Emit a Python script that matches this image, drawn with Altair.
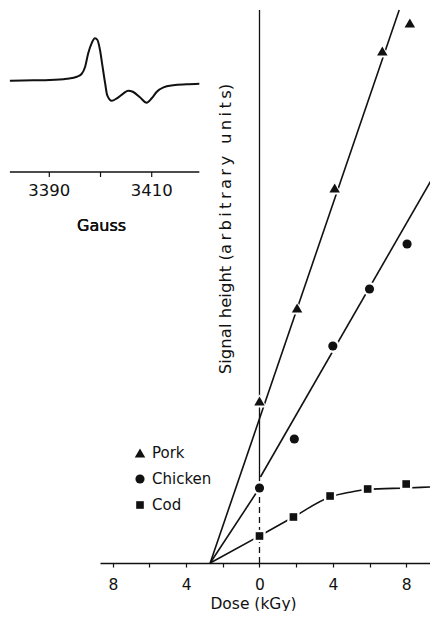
import altair as alt
import pandas as pd

# ---------------- data ----------------
series_names = ["Pork", "Chicken", "Cod"]
series_shapes = ["triangle-up", "circle", "square"]
series_sizes = [110, 58, 56]
halo_sizes = [230, 150, 150]

pork_dose = [0.0, 2.05, 4.1, 6.7, 8.2]
pork_signal = [16.2, 25.5, 37.5, 51.2, 54.0]
chicken_dose = [0.0, 1.9, 4.0, 6.0, 8.05]
chicken_signal = [7.5, 12.4, 21.7, 27.4, 31.9]
cod_dose = [0.0, 1.85, 3.85, 5.9, 8.0]
cod_signal = [2.7, 4.6, 6.7, 7.4, 7.9]

pork_fit_dose = [-2.69, 7.62]
pork_fit_signal = [0.0, 55.3]
chicken_fit_low_dose = [-2.69, 0.0]
chicken_fit_low_signal = [0.0, 7.5]
chicken_fit_up_dose = [0.05, 9.75]
chicken_fit_up_signal = [8.6, 39.5]
cod_fit_dose = [-2.69, 0.0, 1.85, 3.85, 5.0, 5.9, 8.0, 9.3]
cod_fit_signal = [0.0, 2.7, 4.6, 6.6, 7.1, 7.35, 7.5, 7.6]

dose_ticks = [-8, -6, -4, -2, 0, 2, 4, 6, 8]
signal_line_solid = [8.6, 55.3]
signal_line_dashed = [0.0, 8.6]

# inset ESR spectrum
spectrum_gauss = [3382.3, 3386.9, 3390.1, 3393.4, 3395.4, 3396.3, 3397.0, 3397.6,
                  3398.3, 3398.9, 3399.4, 3399.9, 3400.4, 3400.9, 3401.3, 3402.2,
                  3403.2, 3404.5, 3405.4, 3406.4, 3407.7, 3409.0, 3410.0, 3411.0,
                  3412.3, 3414.2, 3416.8, 3419.3]
spectrum_signal = [0.07, 0.16, 0.23, 0.53, 1.0, 1.63, 3.33, 6.44,
                   8.88, 9.93, 9.53, 7.21, 3.33, -0.53, -3.26, -4.58,
                   -4.02, -2.86, -2.26, -2.56, -3.79, -5.05, -4.02, -2.49,
                   -1.47, -1.0, -0.77, -0.63]
gauss_ticks = [3390, 3400, 3410]
gauss_labels = [3390, 3410]
gauss_axis_span = [3382.3, 3419.3]

# ---------------- layout constants ----------------
INK = "#111111"
FONT = "DejaVu Sans"
INSET_AXIS_Y = -21.16
INSET_TICK_Y2 = -22.33
INSET_LABEL_Y = -25.58
INSET_TITLE_Y = -33.72
INSET_TITLE_X = 3400.2
LEGEND_ROWS_PX = [443, 495]
LEGEND_SYMBOL_X = 40
LEGEND_TEXT_X = 52

W, H = 330, 553
xs = alt.Scale(domain=[-8.7, 9.3], nice=False, zero=False)
ys = alt.Scale(domain=[0, 55.3], nice=False, zero=False)
ixs = alt.Scale(domain=[3399.9, 3464.35], nice=False, zero=False)
iys = alt.Scale(domain=[-112.09, 16.51], nice=False, zero=False)
shape_scale = alt.Scale(domain=series_names, range=series_shapes)
size_scale = alt.Scale(domain=series_names, range=series_sizes)
legend_y = alt.Scale(type="point", domain=series_names, range=LEGEND_ROWS_PX, padding=0)

# ---------------- frames ----------------
pts = pd.DataFrame({
    "dose": pork_dose + chicken_dose + cod_dose,
    "signal": pork_signal + chicken_signal + cod_signal,
    "series": ["Pork"] * len(pork_dose) + ["Chicken"] * len(chicken_dose) + ["Cod"] * len(cod_dose),
})

fits = pd.DataFrame({
    "dose": pork_fit_dose + chicken_fit_low_dose + chicken_fit_up_dose + cod_fit_dose,
    "signal": pork_fit_signal + chicken_fit_low_signal + chicken_fit_up_signal + cod_fit_signal,
    "seg": ["pork"] * len(pork_fit_dose) + ["chl"] * len(chicken_fit_low_dose)
           + ["chu"] * len(chicken_fit_up_dose) + ["cod"] * len(cod_fit_dose),
})

vsolid = pd.DataFrame({"x": [0.0], "y": [signal_line_solid[0]], "y2": [signal_line_solid[1]]})
vdash = pd.DataFrame({"x": [0.0], "y": [signal_line_dashed[0]], "y2": [signal_line_dashed[1]]})
leg = pd.DataFrame({"series": series_names})

spec = pd.DataFrame({"g": spectrum_gauss, "a": spectrum_signal})
iaxis = pd.DataFrame({"g": [gauss_axis_span[0]], "g2": [gauss_axis_span[1]]})
iticks = pd.DataFrame({"g": gauss_ticks})
ilabels = pd.DataFrame({"g": gauss_labels, "t": [str(v) for v in gauss_labels]})

# ---------------- main chart ----------------
x_axis = alt.Axis(
    orient="bottom",
    values=dose_ticks,
    labelExpr="datum.value % 4 == 0 ? '' + abs(datum.value) : ''",
    title="Dose (kGy)", grid=False,
    domainColor=INK, domainWidth=1.4, tickColor=INK, tickWidth=1.2, tickSize=4,
    labelFont=FONT, labelFontSize=15.5, labelColor=INK, labelPadding=10,
    titleFont=FONT, titleFontSize=15.5, titleFontWeight="normal", titleColor=INK,
    titleX=153, titleY=45, titleBaseline="alphabetic", titleAlign="center",
)

lines = alt.Chart(fits).mark_line(color=INK, strokeWidth=1.6, interpolate="monotone").encode(
    x=alt.X("dose:Q", scale=xs, axis=x_axis),
    y=alt.Y("signal:Q", scale=ys, axis=None),
    detail="seg:N",
)

rule_solid = alt.Chart(vsolid).mark_rule(color=INK, strokeWidth=1.3).encode(
    x=alt.X("x:Q", scale=xs, axis=None),
    y=alt.Y("y:Q", scale=ys, axis=None), y2="y2:Q",
)
rule_dash = alt.Chart(vdash).mark_rule(color=INK, strokeWidth=1.3, strokeDash=[6, 4]).encode(
    x=alt.X("x:Q", scale=xs, axis=None),
    y=alt.Y("y:Q", scale=ys, axis=None), y2="y2:Q",
)

ytitle = alt.Chart(vsolid).mark_text(
    text="Signal height (a\u2009r\u2009b\u2009i\u2009t\u2009r\u2009a\u2009r\u2009y\u2009 \u2009u\u2009n\u2009i\u2009t\u2009s)",
    angle=270, font=FONT, fontSize=16.5, color=INK, align="center", baseline="middle",
).encode(
    x=alt.XDatum(-1.82, scale=xs, axis=None),
    y=alt.YDatum(33.4, scale=ys, axis=None),
)

halo = alt.Chart(pts).mark_point(filled=True, color="white", opacity=1).encode(
    x=alt.X("dose:Q", scale=xs, axis=None),
    y=alt.Y("signal:Q", scale=ys, axis=None),
    shape=alt.Shape("series:N", scale=shape_scale, legend=None),
    size=alt.Size("series:N", scale=alt.Scale(domain=series_names, range=halo_sizes), legend=None),
)

points = alt.Chart(pts).mark_point(filled=True, color=INK, opacity=1).encode(
    x=alt.X("dose:Q", scale=xs, axis=None),
    y=alt.Y("signal:Q", scale=ys, axis=None),
    shape=alt.Shape("series:N", scale=shape_scale, legend=None),
    size=alt.Size("series:N", scale=size_scale, legend=None),
)

# legend built from the series names
leg_symbols = alt.Chart(leg).mark_point(filled=True, color=INK, opacity=1).encode(
    x=alt.value(LEGEND_SYMBOL_X),
    y=alt.Y("series:N", scale=legend_y, axis=None),
    shape=alt.Shape("series:N", scale=shape_scale, legend=None),
    size=alt.Size("series:N", scale=size_scale, legend=None),
)
leg_text = alt.Chart(leg).mark_text(font=FONT, fontSize=15, color=INK, align="left", baseline="middle").encode(
    x=alt.value(LEGEND_TEXT_X),
    y=alt.Y("series:N", scale=legend_y, axis=None),
    text="series:N",
)

# ---------------- inset ----------------
spec_line = alt.Chart(spec).mark_line(color=INK, strokeWidth=2, interpolate="monotone").encode(
    x=alt.X("g:Q", scale=ixs, axis=None),
    y=alt.Y("a:Q", scale=iys, axis=None),
)
inset_axis = alt.Chart(iaxis).mark_rule(color=INK, strokeWidth=1.4).encode(
    x=alt.X("g:Q", scale=ixs, axis=None), x2="g2:Q",
    y=alt.YDatum(INSET_AXIS_Y, scale=iys, axis=None),
)
inset_ticks = alt.Chart(iticks).mark_rule(color=INK, strokeWidth=1.2).encode(
    x=alt.X("g:Q", scale=ixs, axis=None),
    y=alt.YDatum(INSET_AXIS_Y, scale=iys, axis=None),
    y2=alt.Y2Datum(INSET_TICK_Y2),
)
inset_labels = alt.Chart(ilabels).mark_text(font=FONT, fontSize=16.5, color=INK, align="center", baseline="middle").encode(
    x=alt.X("g:Q", scale=ixs, axis=None),
    y=alt.YDatum(INSET_LABEL_Y, scale=iys, axis=None),
    text="t:N",
)
inset_title = alt.Chart(iticks).mark_text(text="Gauss", font=FONT, fontSize=16, color=INK, align="center", baseline="middle").encode(
    x=alt.XDatum(INSET_TITLE_X, scale=ixs, axis=None),
    y=alt.YDatum(INSET_TITLE_Y, scale=iys, axis=None),
)

chart = alt.layer(
    lines, rule_solid, rule_dash, ytitle, halo, points, leg_symbols, leg_text,
    spec_line, inset_axis, inset_ticks, inset_labels, inset_title,
).resolve_scale(
    x="independent", y="independent", shape="independent", size="independent"
).properties(
    width=W, height=H,
    autosize=alt.AutoSizeParams(type="none"),
    padding={"left": 92, "top": 2, "right": 0, "bottom": 48},
    background="white",
).configure_view(stroke=None)

chart.save("out.html", embed_options={"renderer": "svg", "actions": False})
